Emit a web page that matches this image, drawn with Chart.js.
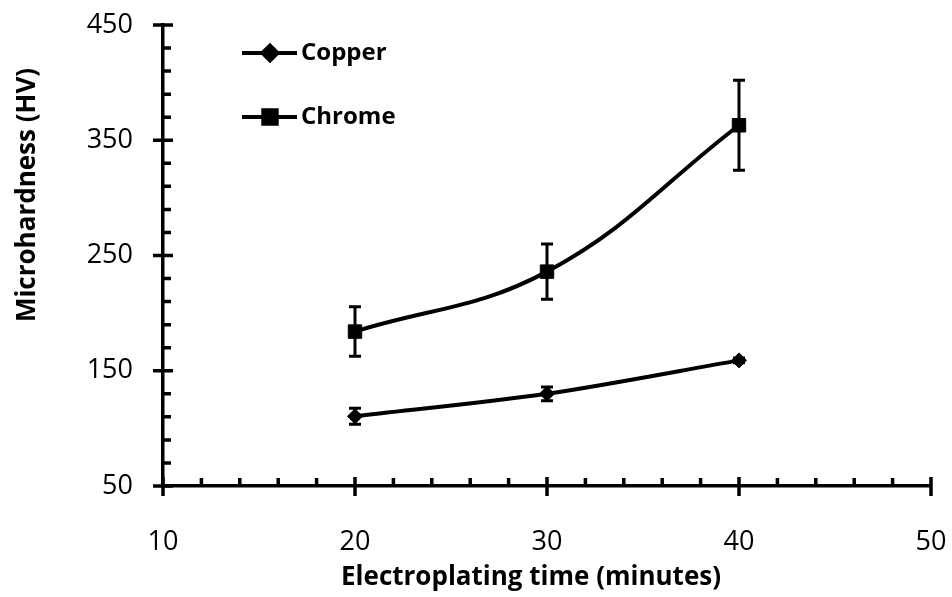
<!DOCTYPE html>
<html>
<head>
<meta charset="utf-8">
<script src="https://cdn.jsdelivr.net/npm/chart.js@4.4.0/dist/chart.umd.min.js"></script>
<style>
  html, body { margin: 0; padding: 0; background: #fff; }
  #wrap { width: 952px; height: 597px; }
</style>
</head>
<body>
<div id="wrap"><canvas id="chart" width="952" height="597"></canvas></div>
<script>
// ---- data ----
const times = [20, 30, 40];
const copper = [110.5, 130, 159];
const copperErr = [7, 6, 2];
const chrome = [184, 236, 363];
const chromeErr = [21.5, 24, 39];

const xTicks = [10, 20, 30, 40, 50];
const yTicks = [50, 150, 250, 350, 450];

const xTitle = "Electroplating time (minutes)";
const yTitle = "Microhardness (HV)";

const FONT = "'Open Sans', Lato, sans-serif";

// error bars, drawn with the chart scales
const errorBars = {
  id: "errorBars",
  afterDatasetsDraw(chart) {
    const { ctx, scales: { x, y } } = chart;
    ctx.save();
    ctx.strokeStyle = "#000";
    ctx.lineWidth = 3;
    chart.data.datasets.forEach((ds) => {
      ds.data.forEach((pt, i) => {
        const e = ds.errors[i];
        const px = x.getPixelForValue(pt.x);
        const top = y.getPixelForValue(pt.y + e);
        const bot = y.getPixelForValue(pt.y - e);
        ctx.beginPath();
        ctx.moveTo(px, top); ctx.lineTo(px, bot);
        ctx.moveTo(px - 6, top); ctx.lineTo(px + 6, top);
        ctx.moveTo(px - 6, bot); ctx.lineTo(px + 6, bot);
        ctx.stroke();
      });
    });
    ctx.restore();
  }
};

// excel style tick marks: major cross the axis, minor inside
const tickMarks = {
  id: "tickMarks",
  afterDraw(chart) {
    const { ctx, chartArea: a, scales: { x, y } } = chart;
    ctx.save();
    ctx.strokeStyle = "#000";
    ctx.lineWidth = 3.5;
    ctx.beginPath();
    for (let v = 10; v <= 50; v += 2) {
      const px = x.getPixelForValue(v);
      if (v % 10 === 0) {
        ctx.moveTo(px, a.bottom - 9); ctx.lineTo(px, a.bottom + 10);
      } else {
        ctx.moveTo(px, a.bottom); ctx.lineTo(px, a.bottom - 8);
      }
    }
    for (let v = 50; v <= 450; v += 20) {
      const py = y.getPixelForValue(v);
      if ((v - 50) % 100 === 0) {
        ctx.moveTo(a.left - 10, py); ctx.lineTo(a.left + 10, py);
      } else {
        ctx.moveTo(a.left, py); ctx.lineTo(a.left + 8, py);
      }
    }
    ctx.stroke();
    ctx.restore();
  }
};

// axis titles sit where excel put them (not centred on the plot)
const axisTitles = {
  id: "axisTitles",
  afterDraw(chart) {
    const { ctx } = chart;
    ctx.save();
    ctx.fillStyle = "#000";
    ctx.font = "bold 26px " + FONT;
    ctx.textAlign = "center";
    ctx.textBaseline = "alphabetic";
    ctx.fillText(xTitle, 531, 585);
    ctx.translate(35, 195);
    ctx.rotate(-Math.PI / 2);
    ctx.fillText(yTitle, 0, 0);
    ctx.restore();
  }
};

// legend in the upper left of the plot
const plotLegend = {
  id: "plotLegend",
  afterDraw(chart) {
    const { ctx } = chart;
    const rows = [53, 117];
    ctx.save();
    chart.data.datasets.forEach((ds, i) => {
      const ly = rows[i];
      ctx.strokeStyle = "#000";
      ctx.lineWidth = 4;
      ctx.beginPath();
      ctx.moveTo(242, ly); ctx.lineTo(297, ly);
      ctx.stroke();
      ctx.fillStyle = "#000";
      Chart.helpers.drawPoint(ctx, {
        pointStyle: ds.pointStyle,
        radius: ds.pointRadius,
        borderWidth: 1
      }, 270, ly);
      ctx.font = "bold 24px " + FONT;
      ctx.textBaseline = "middle";
      ctx.textAlign = "left";
      ctx.fillText(ds.label, 301, ly);
    });
    ctx.restore();
  }
};

const noPad = (s) => {
  s.paddingTop = 0; s.paddingBottom = 0; s.paddingLeft = 0; s.paddingRight = 0;
};

const ctx = document.getElementById("chart").getContext("2d");

new Chart(ctx, {
  type: "line",
  data: {
    datasets: [
      {
        label: "Copper",
        data: times.map((t, i) => ({ x: t, y: copper[i] })),
        errors: copperErr,
        pointStyle: "rectRot",
        pointRadius: 7.5,
        tension: 0.3
      },
      {
        label: "Chrome",
        data: times.map((t, i) => ({ x: t, y: chrome[i] })),
        errors: chromeErr,
        pointStyle: "rect",
        pointRadius: 9.5,
        tension: 0.4
      }
    ].map((d) => Object.assign({
      borderColor: "#000",
      backgroundColor: "#000",
      pointBackgroundColor: "#000",
      pointBorderColor: "#000",
      pointBorderWidth: 1,
      borderWidth: 4,
      fill: false
    }, d))
  },
  options: {
    responsive: false,
    animation: false,
    events: [],
    layout: { padding: { top: 25, right: 21, left: 0, bottom: 0 } },
    plugins: { legend: { display: false }, tooltip: { enabled: false } },
    scales: {
      x: {
        type: "linear",
        min: 10,
        max: 50,
        afterBuildTicks: (s) => { s.ticks = xTicks.map((v) => ({ value: v })); },
        afterFit: (s) => { s.height = 111; noPad(s); },
        grid: { display: false, drawTicks: false },
        border: { display: true, color: "#000", width: 3.5 },
        ticks: { color: "#000", padding: 40, maxRotation: 0, font: { family: FONT, size: 27 } }
      },
      y: {
        type: "linear",
        min: 50,
        max: 450,
        afterBuildTicks: (s) => { s.ticks = yTicks.map((v) => ({ value: v })); },
        afterFit: (s) => { s.width = 163; noPad(s); },
        grid: { display: false, drawTicks: false },
        border: { display: true, color: "#000", width: 3.5 },
        ticks: { color: "#000", padding: 30, font: { family: FONT, size: 27 } }
      }
    }
  },
  plugins: [errorBars, tickMarks, axisTitles, plotLegend]
});
</script>
</body>
</html>
